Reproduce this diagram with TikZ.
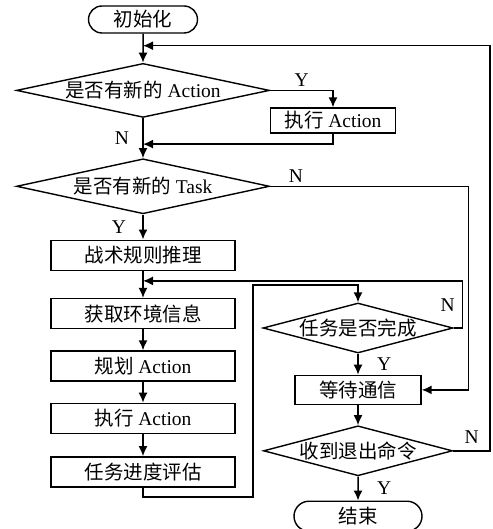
\documentclass[tikz,border=0pt]{standalone}
\usepackage{fontspec}
\setmainfont{Liberation Serif}
\newfontfamily\cjk{Noto Sans CJK SC}
\usetikzlibrary{arrows.meta,calc}
\usetikzlibrary{positioning,shapes}
\tikzstyle{flow}=[->, line width=1.5pt]
\tikzstyle{term}=[rounded rectangle, draw, line width=1.4pt,
		minimum width=113pt, minimum height=27pt, inner sep=2pt]
\tikzstyle{proc}=[rectangle, draw, line width=1.4pt,
		minimum width=184pt, minimum height=30pt, inner sep=2pt]
\tikzstyle{decide}=[diamond, draw, line width=1.4pt, inner sep=0pt,
		minimum width=253pt, minimum height=54pt, shape aspect=4.7]

\begin{document}
\begin{tikzpicture}[x=1pt, y=1pt, >={Latex[length=10pt,width=9pt]},
    every node/.style={font=\fontsize{19.5}{22}\selectfont}]

    \useasboundingbox (0,0) rectangle (492,-529);

    % left column
    \node (Init) [term] at (143,-19.5) {\cjk 初始化};
    \node (NewAction) [decide, below=29pt of Init] {{\cjk 是否有新的} Action};
    \node (DoAction) [proc, minimum width=125pt, minimum height=25pt]
        at (333,-120.5) {{\cjk 执行} Action};
    \node (NewTask) [decide, minimum height=55pt, below=40pt of NewAction]
        {{\cjk 是否有新的} Task};
    \node (Rules) [proc, below=25pt of NewTask] {\cjk 战术规则推理};
    \node (GetEnv) [proc, below=27pt of Rules] {\cjk 获取环境信息};
    \node (PlanAct) [proc, below=21pt of GetEnv] {{\cjk 规划} Action};
    \node (DoAct) [proc, below=21pt of PlanAct] {{\cjk 执行} Action};
    \node (Progress) [proc, below=22pt of DoAct] {\cjk 任务进度评估};

    % right column
    \node (TaskDone) [decide, minimum width=190pt, minimum height=50pt,
        shape aspect=3.8] at (358,-328) {\cjk 任务是否完成};
    \node (WaitComm) [proc, minimum width=126pt, minimum height=29pt,
        below=21pt of TaskDone] {\cjk 等待通信};
    \node (ExitCmd) [decide, minimum width=189pt, minimum height=50pt,
        shape aspect=3.8, below=20pt of WaitComm] {\cjk 收到退出命令};
    \node (Finish) [term, minimum width=132pt, minimum height=30pt,
        below=24pt of ExitCmd] {\cjk 结束};

    \coordinate (LoopIn) at ([yshift=-12pt]Init.south);
    \coordinate (Join1) at ([yshift=-26pt]NewAction.south);
    \coordinate (Join2) at ([yshift=-10pt]Rules.south);
    \coordinate (LowLeft) at (253,-497);
    \coordinate (UpLeft) at (253,-285);

    \draw[flow] (Init) -- (NewAction);
    \draw[flow] (NewAction.east) -- node[above]{Y} (NewAction.east -| DoAction.north)
        -- (DoAction.north);
    \draw[flow] (DoAction.south) |- (Join1);
    \draw[flow] (NewAction) -- node[left=10pt]{N} (NewTask);
    \draw[flow] (NewTask.east) -- node[above, pos=0.13]{N}
        ($(NewTask.east -| WaitComm.east)+(47pt,0)$) |- (WaitComm.east);
    \draw[flow] (NewTask) -- node[left=13pt]{Y} (Rules);
    \draw[flow] (Rules) -- (GetEnv);
    \draw[flow] (GetEnv) -- (PlanAct);
    \draw[flow] (PlanAct) -- (DoAct);
    \draw[flow] (DoAct) -- (Progress);
    \draw[flow] (Progress.south) |- (LowLeft) -- (UpLeft) -| (TaskDone.north);
    \draw[flow] (TaskDone.east) node[above=12pt, xshift=-6pt]{N} -- ++(9pt,0) |- (Join2);
    \draw[flow] (TaskDone) -- node[right=15pt]{Y} (WaitComm);
    \draw[flow] (WaitComm) -- (ExitCmd);
    \draw[flow] (ExitCmd) -- node[right=15pt]{Y} (Finish);
    \draw[flow] (ExitCmd.east) -- node[above=3pt]{N} ++(37pt,0) |- (LoopIn);

\end{tikzpicture}
\end{document}
